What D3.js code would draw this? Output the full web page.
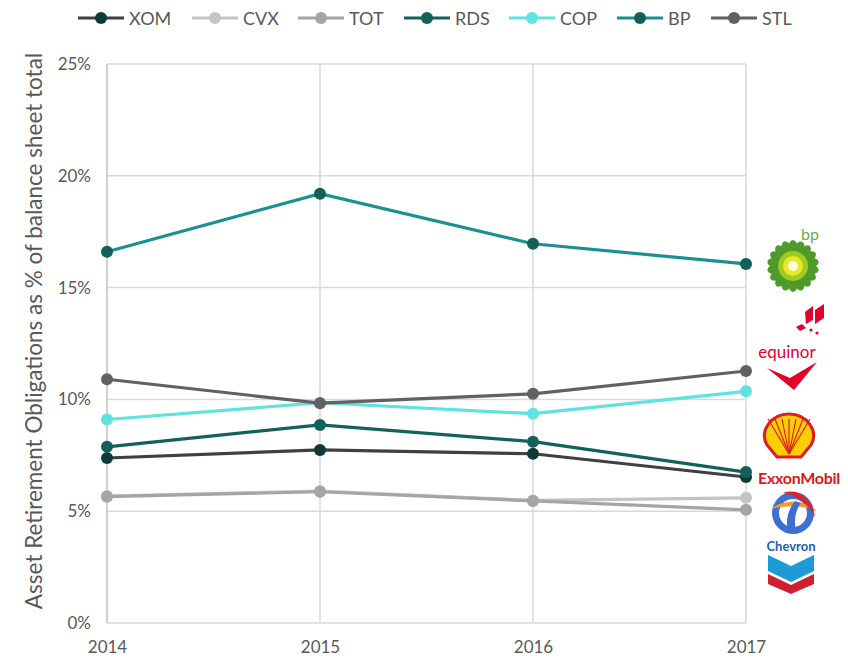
<!DOCTYPE html>
<html>
<head>
<meta charset="utf-8">
<script src="https://cdn.jsdelivr.net/npm/d3@7"></script>
<style>
  body { margin: 0; background: #fff; }
  svg text { font-family: Lato, "Open Sans", sans-serif; }
</style>
</head>
<body>
<div id="chart"></div>
<script>
const years = [2014, 2015, 2016, 2017];
const yTicks = [0, 0.05, 0.10, 0.15, 0.20, 0.25];

const companies = ["XOM", "CVX", "TOT", "RDS", "COP", "BP", "STL"];
const xom = [0.0738, 0.0774, 0.0757, 0.0653];
const cvx = [0.0568, 0.0590, 0.0548, 0.0560];
const tot = [0.0565, 0.0587, 0.0546, 0.0506];
const rds = [0.0788, 0.0886, 0.0811, 0.0675];
const cop = [0.0910, 0.0985, 0.0936, 0.1036];
const bp  = [0.1660, 0.1920, 0.1696, 0.1606];
const stl = [0.1090, 0.0983, 0.1025, 0.1127];

const lineColors   = ["#404040", "#c4c4c4", "#a5a5a5", "#12625c", "#5ee3df", "#1a9190", "#616161"];
const markerColors = ["#0e3b38", "#c4c4c4", "#a5a5a5", "#12625c", "#5ee3df", "#135f5a", "#616161"];

const series = companies.map((c, i) => ({
  name: c,
  values: [xom, cvx, tot, rds, cop, bp, stl][i],
  line: lineColors[i],
  marker: markerColors[i]
}));

const width = 848, height = 660;
const margin = {top: 64, right: 102, bottom: 37, left: 107};

const svg = d3.select("#chart").append("svg")
  .attr("width", width)
  .attr("height", height);

const x = d3.scalePoint().domain(years).range([margin.left, width - margin.right]);
const y = d3.scaleLinear().domain([0, 0.25]).range([height - margin.bottom, margin.top]);

// gridlines
svg.append("g")
  .selectAll("line")
  .data(yTicks)
  .enter().append("line")
  .attr("x1", margin.left)
  .attr("x2", width - margin.right)
  .attr("y1", d => y(d))
  .attr("y2", d => y(d))
  .attr("stroke", "#d9d9d9")
  .attr("stroke-width", 1.5);

svg.append("g")
  .selectAll("line")
  .data(years)
  .enter().append("line")
  .attr("x1", d => x(d))
  .attr("x2", d => x(d))
  .attr("y1", y(0))
  .attr("y2", y(0.25))
  .attr("stroke", (d, i) => i === 0 ? "#bfbfbf" : "#d9d9d9")
  .attr("stroke-width", 1.5);

// axes labels
const yAxis = d3.axisLeft(y).tickValues(yTicks).tickFormat(d3.format(".0%")).tickSize(0).tickPadding(16);
const gy = svg.append("g").attr("transform", `translate(${margin.left},0)`).call(yAxis);
gy.select(".domain").remove();
gy.selectAll("text").attr("fill", "#595959").style("font-size", "17px");

const xAxis = d3.axisBottom(x).tickSize(0).tickPadding(18);
const gx = svg.append("g").attr("transform", `translate(0,${y(0)})`).call(xAxis);
gx.select(".domain").remove();
gx.selectAll("text").attr("fill", "#595959").style("font-size", "17px");

svg.append("text")
  .attr("transform", "translate(42, 331) rotate(-90)")
  .attr("text-anchor", "middle")
  .attr("fill", "#595959")
  .style("font-size", "22.5px")
  .text("Asset Retirement Obligations as % of balance sheet total");

// lines
const line = d3.line().x((d, i) => x(years[i])).y(d => y(d));

const g = svg.append("g");
series.forEach(s => {
  g.append("path")
    .attr("d", line(s.values))
    .attr("fill", "none")
    .attr("stroke", s.line)
    .attr("stroke-width", 3.2);
  g.selectAll(null)
    .data(s.values)
    .enter().append("circle")
    .attr("cx", (d, i) => x(years[i]))
    .attr("cy", d => y(d))
    .attr("r", 6)
    .attr("fill", s.marker);
});

// legend
const legendX = [78, 192, 298, 404, 509, 617, 711];
const legend = svg.append("g");
series.forEach((s, i) => {
  const lg = legend.append("g").attr("transform", `translate(${legendX[i]},18)`);
  lg.append("line").attr("x1", 0).attr("x2", 46).attr("stroke", s.line).attr("stroke-width", 3.2);
  lg.append("circle").attr("cx", 23).attr("r", 6).attr("fill", s.marker);
  lg.append("text").attr("x", 51).attr("y", 6.5).attr("fill", "#595959")
    .style("font-size", "18px").text(s.name);
});

// company marks on the right
const logos = svg.append("g");

// bp
logos.append("text").attr("x", 810).attr("y", 240).attr("text-anchor", "middle")
  .attr("fill", "#6aa84f").style("font-size", "16px").text("bp");
const sun = logos.append("g").attr("transform", "translate(793,266)");
d3.range(18).forEach(k => {
  sun.append("ellipse").attr("rx", 5).attr("ry", 9)
    .attr("transform", `rotate(${k * 20}) translate(0,-17)`)
    .attr("fill", "#4f9a2a");
});
sun.append("circle").attr("r", 15).attr("fill", "#9ccc1e");
sun.append("circle").attr("r", 10).attr("fill", "#e6e92a");
sun.append("circle").attr("r", 5).attr("fill", "#fffde0");

// equinor
const eq = logos.append("g").attr("fill", "#e4002b");
eq.append("path").attr("d", "M805,312 L813,306 L813,320 L806,324 Z");
eq.append("path").attr("d", "M815,310 L824,304 L824,318 L815,324 Z");
eq.append("path").attr("d", "M796,327 L802,324 L806,328 L800,331 Z");
eq.append("circle").attr("cx", 811).attr("cy", 330).attr("r", 1.6);
eq.append("circle").attr("cx", 817).attr("cy", 333).attr("r", 1.6);
logos.append("text").attr("x", 787).attr("y", 358).attr("text-anchor", "middle")
  .attr("fill", "#e4002b").style("font-size", "17px").text("equinor");
eq.append("path").attr("d", "M767,368 L790,378 L817,362 L794,390 Z");

// shell
const sh = logos.append("g").attr("transform", "translate(789,437)");
sh.append("path").attr("d", "M-12,20 L-22,8 C-30,-6 -18,-23 0,-23 C18,-23 30,-6 22,8 L12,20 Z")
  .attr("fill", "#fbce07").attr("stroke", "#dd1d21").attr("stroke-width", 3);
d3.range(-3, 4).forEach(k => {
  sh.append("line").attr("x1", 0).attr("y1", 17).attr("x2", k * 7).attr("y2", -18)
    .attr("stroke", "#dd1d21").attr("stroke-width", 1.2);
});

// exxonmobil
logos.append("text").attr("x", 799).attr("y", 484).attr("text-anchor", "middle")
  .attr("fill", "#d71920").style("font-size", "16px").style("font-weight", "bold")
  .style("letter-spacing", "-0.3px").text("ExxonMobil");

// total
const tt = logos.append("g").attr("transform", "translate(793,513)");
tt.append("circle").attr("r", 21).attr("fill", "#3b6fd1");
tt.append("circle").attr("r", 14).attr("fill", "#fff");
tt.append("path").attr("d", "M-22,-4 C-10,-14 12,-14 24,-2 C12,-8 -8,-8 -22,-4 Z").attr("fill", "#f39a1e");
tt.append("path").attr("d", "M-10,-20 C4,-26 20,-14 22,4 C16,-8 4,-18 -10,-20 Z").attr("fill", "#e4202a");
tt.append("path").attr("d", "M2,-12 C-6,-2 -8,10 -4,20 L4,20 C0,10 2,-2 8,-10 Z").attr("fill", "#3b6fd1");

// chevron
logos.append("text").attr("x", 791).attr("y", 551).attr("text-anchor", "middle")
  .attr("fill", "#1b5fa8").style("font-size", "13px").style("font-weight", "bold").text("Chevron");
const cv = logos.append("g");
cv.append("path").attr("d", "M768,555 L791,566 L814,555 L814,571 L791,582 L768,571 Z").attr("fill", "#1e9ad6");
cv.append("path").attr("d", "M768,574 L791,585 L814,574 L814,584 L791,594 L768,584 Z").attr("fill", "#d0202e");
</script>
</body>
</html>
